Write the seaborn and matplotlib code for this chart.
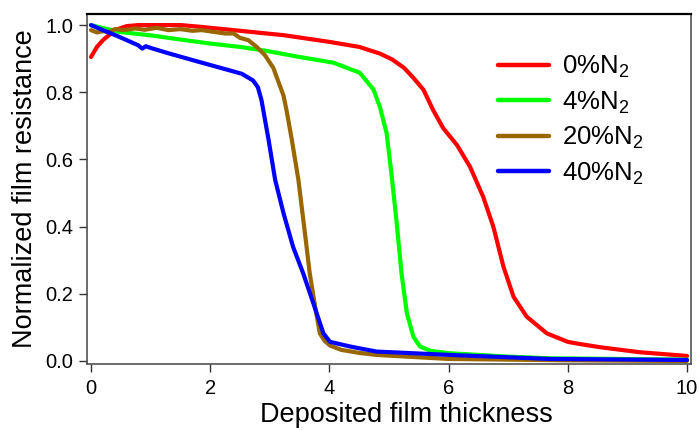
import numpy as np
import pandas as pd
import matplotlib
matplotlib.use("Agg")
import matplotlib.pyplot as plt
import seaborn as sns

# ---- data ----
labels = ["0%N$_2$", "4%N$_2$", "20%N$_2$", "40%N$_2$"]
colors = ["#FF0000", "#00FF00", "#996600", "#0000FF"]

x_0 = [0, 0.1, 0.2, 0.4, 0.6, 0.8, 1.0, 1.5, 1.83, 2.5, 3.0, 3.23, 4.0, 4.5, 4.85, 5.05, 5.25, 5.41,
       5.58, 5.74, 5.91, 6.14, 6.36, 6.58, 6.75, 6.92, 7.09, 7.31, 7.65, 8.0, 8.15, 8.54, 9.21, 10]
y_0 = [0.905, 0.935, 0.955, 0.985, 0.997, 1.0, 1.0, 1.0, 0.995, 0.983, 0.974, 0.970, 0.950, 0.935,
       0.915, 0.898, 0.873, 0.843, 0.807, 0.747, 0.693, 0.643, 0.578, 0.489, 0.400, 0.281, 0.191,
       0.132, 0.082, 0.057, 0.052, 0.041, 0.026, 0.015]

x_4 = [0, 0.46, 1.02, 1.58, 2.0, 2.5, 2.95, 3.5, 4.07, 4.51, 4.74, 4.85, 4.96, 5.04, 5.13, 5.21,
       5.30, 5.41, 5.52, 5.70, 6.02, 7.0, 7.70, 10]
y_4 = [1.0, 0.98, 0.969, 0.955, 0.945, 0.935, 0.923, 0.905, 0.888, 0.858, 0.808, 0.755, 0.678, 0.559,
       0.41, 0.261, 0.142, 0.072, 0.043, 0.030, 0.023, 0.013, 0.008, 0.004]

x_20 = [0, 0.1, 0.2, 0.3, 0.4, 0.55, 0.74, 0.9, 1.1, 1.3, 1.5, 1.7, 1.86, 2.05, 2.25, 2.39, 2.5,
        2.64, 2.78, 2.92, 3.06, 3.23, 3.28, 3.37, 3.48, 3.59, 3.67, 3.76, 3.84, 3.92, 4.01, 4.2,
        4.5, 4.79, 6.0, 8.0, 10]
y_20 = [0.985, 0.978, 0.982, 0.979, 0.988, 0.985, 0.990, 0.986, 0.992, 0.985, 0.988, 0.983, 0.985,
        0.980, 0.975, 0.975, 0.962, 0.955, 0.935, 0.910, 0.872, 0.790, 0.747, 0.658, 0.539, 0.380,
        0.261, 0.162, 0.082, 0.060, 0.046, 0.033, 0.024, 0.018, 0.006, 0.002, 0.0]

x_40 = [0, 0.2, 0.46, 0.79, 0.86, 0.92, 1.0, 1.30, 1.86, 2.39, 2.53, 2.72, 2.80, 2.86, 2.98, 3.09,
        3.23, 3.39, 3.56, 3.73, 3.90, 4.01, 4.35, 4.79, 6.02, 7.70, 10]
y_40 = [1.0, 0.985, 0.966, 0.940, 0.930, 0.937, 0.932, 0.916, 0.888, 0.862, 0.855, 0.835, 0.815,
        0.777, 0.658, 0.539, 0.440, 0.340, 0.261, 0.172, 0.082, 0.057, 0.043, 0.028, 0.018, 0.006,
        0.003]

xs = [x_0, x_4, x_20, x_40]
ys = [y_0, y_4, y_20, y_40]

frames = []
for lab, xv, yv in zip(labels, xs, ys):
    frames.append(pd.DataFrame({"x": xv, "y": yv, "series": lab}))
df = pd.concat(frames, ignore_index=True)

# ---- style ----
sns.set_theme(style="ticks")
plt.rcParams["font.family"] = ["Liberation Sans", "DejaVu Sans"]
plt.rcParams["mathtext.fontset"] = "custom"
plt.rcParams["mathtext.rm"] = "Liberation Sans"
plt.rcParams["mathtext.it"] = "Liberation Sans:italic"
plt.rcParams["mathtext.bf"] = "Liberation Sans:bold"
plt.rcParams["text.color"] = "black"
plt.rcParams["axes.labelcolor"] = "black"

fig = plt.figure(figsize=(6.99, 4.30), dpi=100)
ax = fig.add_axes([87 / 699, 66 / 430, (691 - 87) / 699, (364 - 14) / 430])

sns.lineplot(data=df, x="x", y="y", hue="series", palette=dict(zip(labels, colors)),
             hue_order=labels, estimator=None, sort=False, linewidth=3.0, ax=ax)

ax.set_xlim(-0.067, 10.067)
ax.set_ylim(-0.009, 1.033)
ax.set_xticks([0, 2, 4, 6, 8, 10])
ax.set_yticks([0.0, 0.2, 0.4, 0.6, 0.8, 1.0])
ax.set_yticklabels(["0.0", "0.2", "0.4", "0.6", "0.8", "1.0"])
ax.tick_params(direction="out", length=6, width=1, labelsize=14.5, pad=4, colors="#333333",
               labelcolor="black")
ax.tick_params(axis="x", pad=5)

for s in ax.spines.values():
    s.set_visible(True)
    s.set_color("#444444")
    s.set_linewidth(1.1)
ax.spines["top"].set_color("black")
ax.spines["top"].set_linewidth(1.6)

ax.set_xlabel("Deposited film thickness", fontsize=19.5, color="black")
ax.xaxis.set_label_coords((406 - 87) / 604, -(402 - 364) / 350, transform=ax.transAxes)
ax.xaxis.label.set_va("top")
ax.set_ylabel("Normalized film resistance", fontsize=19.5, labelpad=5, color="black")

leg = ax.legend(loc="upper left", bbox_to_anchor=((498 - 87) / 604, (364 - 54) / 350),
                frameon=False, fontsize=18.5, handlelength=2.0, handletextpad=0.5,
                labelspacing=0.36, borderaxespad=0, borderpad=0, labelcolor="black")
for line in leg.get_lines():
    line.set_linewidth(3.2)

fig.savefig("out.png", dpi=100)
